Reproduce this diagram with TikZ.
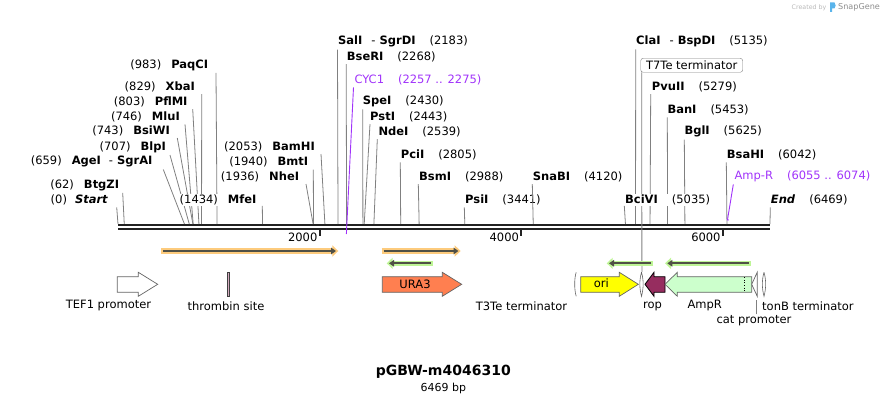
\documentclass[tikz,border=0pt]{standalone}
\usepackage{fontspec}
\setmainfont{DejaVu Sans}[ItalicFont={DejaVu Sans Oblique},BoldFont={DejaVu Sans Bold},BoldItalicFont={DejaVu Sans Bold Oblique}]
\usepackage{xcolor}
\usepackage{tikz}
\usetikzlibrary{arrows.meta,positioning}

\definecolor{leadgray}{RGB}{128,128,128}
\definecolor{hitpurple}{RGB}{160,50,250}
\definecolor{bbdark}{RGB}{34,34,34}
\definecolor{featgray}{RGB}{100,100,100}
\definecolor{glowor}{RGB}{253,203,125}
\definecolor{glowgr}{RGB}{190,245,150}
\definecolor{primdark}{RGB}{80,80,70}
\definecolor{uracoral}{RGB}{255,127,80}
\definecolor{oriyellow}{RGB}{255,255,0}
\definecolor{ropred}{RGB}{150,45,95}
\definecolor{ampgreen}{RGB}{204,255,204}
\definecolor{wmgray}{RGB}{185,185,185}
\definecolor{wmblue}{RGB}{90,180,235}
\newcommand{\mapfont}{\fontsize{11.5}{13.5}\selectfont}

\begin{document}
\begin{tikzpicture}[
    x=1pt, y=-1pt,
    declare function={px(\n)=118+\n*0.100789;},
    lcut/.style={anchor=east, inner sep=2pt, font=\mapfont},
    rcut/.style={anchor=west, inner sep=2pt, font=\mapfont},
    leader/.style={draw=leadgray, line width=0.8pt},
    hit/.style={draw=hitpurple, line width=0.9pt},
    feat/.style={draw=featgray, line width=0.7pt},
    flabel/.style={font=\mapfont, inner sep=1pt},
    oglow/.style={draw=glowor, line width=5.5pt, -{Triangle[length=6pt,width=11pt]}},
    gglow/.style={draw=glowgr, line width=5.5pt, -{Triangle[length=6pt,width=11pt]}},
    primer/.style={draw=primdark, line width=1.8pt, -{Triangle[length=5pt,width=6.5pt]}},
    tick/.style={draw=bbdark, line width=2pt},
    term/.style={draw=featgray, line width=0.6pt, fill=white}
]
    \useasboundingbox (0,0) rectangle (888,403);

    % Backbone
    \draw[draw=bbdark, line width=2.6pt] ({px(0)},225) -- ({px(6469)},225);
    \draw[draw=bbdark, line width=2pt] ({px(0)},229.3) -- ({px(6469)},229.3);

    % Ticks
    \draw[tick] ({px(2000)},229) -- ++(0,7);
    \node[font=\mapfont, anchor=east, inner sep=1pt] (t2000) at ({px(2000)-1},237) {2000};
    \draw[tick] ({px(4000)},229) -- ++(0,7);
    \node[font=\mapfont, anchor=east, inner sep=1pt] (t4000) at ({px(4000)-1},237) {4000};
    \draw[tick] ({px(6000)},229) -- ++(0,7);
    \node[font=\mapfont, anchor=east, inner sep=1pt] (t6000) at ({px(6000)-1},237) {6000};

    % Cut sites on the backbone
    \coordinate (c0) at ({px(0)},224);
    \coordinate (c62) at ({px(62)},224);
    \coordinate (c659) at ({px(659)},224);
    \coordinate (c707) at ({px(707)},224);
    \coordinate (c743) at ({px(743)},224);
    \coordinate (c746) at ({px(746)},224);
    \coordinate (c803) at ({px(803)},224);
    \coordinate (c829) at ({px(829)},224);
    \coordinate (c983) at ({px(983)},224);
    \coordinate (c1434) at ({px(1434)},224);
    \coordinate (c1936) at ({px(1936)},224);
    \coordinate (c1940) at ({px(1940)},224);
    \coordinate (c2053) at ({px(2053)},224);
    \coordinate (c2183) at ({px(2183)},224);
    \coordinate (c2268) at ({px(2268)},224);
    \coordinate (c2430) at ({px(2430)},224);
    \coordinate (c2443) at ({px(2443)},224);
    \coordinate (c2539) at ({px(2539)},224);
    \coordinate (c2805) at ({px(2805)},224);
    \coordinate (c2988) at ({px(2988)},224);
    \coordinate (c3441) at ({px(3441)},224);
    \coordinate (c4120) at ({px(4120)},224);
    \coordinate (c5035) at ({px(5035)},224);
    \coordinate (c5135) at ({px(5135)},224);
    \coordinate (c5279) at ({px(5279)},224);
    \coordinate (c5453) at ({px(5453)},224);
    \coordinate (c5625) at ({px(5625)},224);
    \coordinate (c6042) at ({px(6042)},224);
    \coordinate (c6469) at ({px(6469)},224);
    \coordinate (c2266) at ({px(2266)},234);
    \coordinate (c6055) at ({px(6055)-0.8},220);

    % Enzymes left of their sites
    \node[lcut] (start) at (110.3,200) {(0)\hspace{8pt}\textbf{\textit{Start}}};
    \draw[leader] (start.south east) ++(6.4,0) -- (c0);
    \node[lcut] (btgzi) at (121.3,185) {(62)\hspace{10pt}\textbf{BtgZI}};
    \draw[leader] (btgzi.south east) ++(1.4,0) -- (c62);
    \node[lcut] (agei) at (154.7,161.7) {(659)\hspace{10pt}\textbf{AgeI}\hspace{8pt}-\hspace{4pt}\textbf{SgrAI}};
    \draw[leader] (agei.south east) ++(8.6,0) -- (c659);
    \node[lcut] (blpi) at (168,147.3) {(707)\hspace{10pt}\textbf{BlpI}};
    \draw[leader] (blpi.south east) ++(2,0) -- (c707);
    \node[lcut] (bsiwi) at (172,130.7) {(743)\hspace{10pt}\textbf{BsiWI}};
    \draw[leader] (bsiwi.south east) ++(5.3,0) -- (c743);
    \node[lcut] (mlui) at (182,117) {(746)\hspace{10pt}\textbf{MluI}};
    \draw[leader] (mlui.south east) ++(3,0) -- (c746);
    \node[lcut] (pflmi) at (189.7,101.7) {(803)\hspace{10pt}\textbf{PflMI}};
    \draw[leader] (pflmi.south east) ++(3,0) -- (c803);
    \node[lcut] (xbai) at (197,86.7) {(829)\hspace{10pt}\textbf{XbaI}};
    \draw[leader] (xbai.south east) ++(4.7,0) -- (c829);
    \node[lcut] (paqci) at (210.3,65) {(983)\hspace{10pt}\textbf{PaqCI}};
    \draw[leader] (paqci.south east) ++(5.7,0) -- (c983);
    \node[lcut, fill=white, inner ysep=0.5pt] (mfei) at (258.7,200) {(1434)\hspace{10pt}\textbf{MfeI}};
    \draw[leader] (mfei.south east) ++(3.6,0) -- (c1434);
    \node[lcut] (nhei) at (301.3,176.7) {(1936)\hspace{10pt}\textbf{NheI}};
    \draw[leader] (nhei.south east) ++(4.7,0) -- (c1936);
    \node[lcut] (bmti) at (310.3,162.3) {(1940)\hspace{10pt}\textbf{BmtI}};
    \draw[leader] (bmti.south east) ++(3,0) -- (c1940);
    \node[lcut] (bamhi) at (317,146.7) {(2053)\hspace{10pt}\textbf{BamHI}};
    \draw[leader] (bamhi.south east) ++(4,0) -- (c2053);

    % Enzymes right of their sites
    \node[rcut] (sali) at (336,41.7) {\textbf{SalI}\hspace{9pt}-\hspace{4pt}\textbf{SgrDI}\hspace{14pt}(2183)};
    \draw[leader] (sali.south west) ++(1.5,0) -- (c2183);
    \node[rcut] (bseri) at (344.7,56.7) {\textbf{BseRI}\hspace{14pt}(2268)};
    \draw[leader] (bseri.south west) ++(1.5,0) -- (c2268);
    \node[rcut, text=hitpurple] (cyc1) at (352.3,80) {CYC1\hspace{14pt}(2257 .. 2275)};
    \draw[hit] (cyc1.south west) ++(1.2,0) -- (c2266);
    \node[rcut] (spei) at (360.7,101.7) {\textbf{SpeI}\hspace{14pt}(2430)};
    \draw[leader] (spei.south west) ++(2,0) -- (c2430);
    \node[rcut] (psti) at (368,116.7) {\textbf{PstI}\hspace{14pt}(2443)};
    \draw[leader] (psti.south west) ++(2,0) -- (c2443);
    \node[rcut] (ndei) at (376.3,131.7) {\textbf{NdeI}\hspace{14pt}(2539)};
    \draw[leader] (ndei.south west) ++(1,0) -- (c2539);
    \node[rcut] (pcii) at (398.7,155) {\textbf{PciI}\hspace{14pt}(2805)};
    \draw[leader] (pcii.south west) ++(1.6,0) -- (c2805);
    \node[rcut] (bsmi) at (417,176.7) {\textbf{BsmI}\hspace{14pt}(2988)};
    \draw[leader] (bsmi.south west) ++(1.3,0) -- (c2988);
    \node[rcut] (psii) at (463,200) {\textbf{PsiI}\hspace{14pt}(3441)};
    \draw[leader] (psii.south west) ++(1.3,0) -- (c3441);
    \node[rcut] (snabi) at (530.7,176.7) {\textbf{SnaBI}\hspace{14pt}(4120)};
    \draw[leader] (snabi.south west) ++(1.6,0) -- (c4120);
    \node[rcut] (clai) at (634,41.7) {\textbf{ClaI}\hspace{9pt}-\hspace{4pt}\textbf{BspDI}\hspace{14pt}(5135)};
    \draw[leader] (clai.south west) ++(1.7,0) -- (c5135);
    \node[rcut] (pvuii) at (649.7,86.7) {\textbf{PvuII}\hspace{14pt}(5279)};
    \draw[leader] (pvuii.south west) ++(1,0) -- (c5279);
    \node[rcut] (bani) at (665.3,110) {\textbf{BanI}\hspace{14pt}(5453)};
    \draw[leader] (bani.south west) ++(2,0) -- (c5453);
    \node[rcut] (bgli) at (682.3,131.7) {\textbf{BglI}\hspace{14pt}(5625)};
    \draw[leader] (bgli.south west) ++(2,0) -- (c5625);
    \node[rcut] (bsahi) at (724.7,155) {\textbf{BsaHI}\hspace{14pt}(6042)};
    \draw[leader] (bsahi.south west) ++(1.6,0) -- (c6042);
    \node[rcut, text=hitpurple] (ampr) at (732.3,176.7) {Amp-R\hspace{14pt}(6055 .. 6074)};
    \draw[hit] (ampr.south west) ++(1,0) -- (c6055) -- ++(1.5,0);
    \node[rcut] (end) at (768.7,200) {\textbf{\textit{End}}\hspace{14pt}(6469)};
    \draw[leader] (end.south west) ++(1.6,0) -- (c6469);

    % T7Te terminator label
    \node[draw=leadgray, rounded corners=2.5pt, fill=white, font=\mapfont, inner sep=1.5pt,
          minimum height=14pt, minimum width=102pt] (t7te) at (691.7,65.3) {T7Te terminator};
    \coordinate (t7tefeat) at (641.9,272);
    \draw[leader] (t7te.south west) ++(1.2,0) -- (t7tefeat);

    % BciVI sits over the lines that cross it
    \node[rcut, fill=white, inner ysep=0.5pt] (bcivi) at (623,200) {\textbf{BciVI}\hspace{14pt}(5035)};
    \draw[leader] (bcivi.south west) ++(1.3,0) -- (c5035);

    % Primers
    \draw[oglow] (161,251) -- (338.3,251);
    \draw[primer] (163,251) -- (336,251);
    \draw[oglow] (381.7,251) -- (460.7,251);
    \draw[primer] (383.7,251) -- (458.5,251);
    \draw[gglow] (432.7,263.3) -- (386.7,263.3);
    \draw[primer] (430.7,263.3) -- (389,263.3);
    \draw[gglow] (653.3,263.3) -- (606.7,263.3);
    \draw[primer] (651.3,263.3) -- (609,263.3);
    \draw[gglow] (750.7,263.3) -- (665,263.3);
    \draw[primer] (748.7,263.3) -- (667.3,263.3);

    % Features
    \draw[feat, fill=white] (117.3,276.7) -- (138.3,276.7) -- (138.3,272.3) -- (157.7,284.3)
        -- (138.3,296.3) -- (138.3,292.3) -- (117.3,292.3) -- cycle;
    \draw[draw=black!75, line width=0.5pt, fill=ropred!40] (227.6,272.3) rectangle (229,296.3);
    \draw[feat, fill=uracoral] (382.3,276.7) -- (442.3,276.7) -- (442.3,272.3) -- (461.7,284.3)
        -- (442.3,296.3) -- (442.3,292.3) -- (382.3,292.3) -- cycle;
    \draw[term] (576.2,272.3) .. controls (574.2,278) and (574.2,290) .. (576.2,296.3);
    \draw[feat, fill=oriyellow] (580.7,276.7) -- (619.3,276.7) -- (619.3,272.3) -- (638.3,284.3)
        -- (619.3,296.3) -- (619.3,292.3) -- (580.7,292.3) -- cycle;
    \draw[term] (641.5,272.3) .. controls (639.3,280) and (639.3,288) .. (641.5,296.3)
        .. controls (643.7,288) and (643.7,280) .. (641.5,272.3);
    \draw[draw=black, line width=0.8pt, fill=ropred] (665,276.7) -- (654,276.7) -- (654,272.3) -- (645,284.3)
        -- (654,296.3) -- (654,292.3) -- (665,292.3) -- cycle;
    \draw[feat, fill=ampgreen] (751.7,276.7) -- (677.3,276.7) -- (677.3,272.3) -- (665,284.3)
        -- (677.3,296.3) -- (677.3,292.3) -- (751.7,292.3) -- cycle;
    \draw[black, line width=0.6pt, dotted] (744.3,277.2) -- (744.3,291.8);
    \draw[feat, fill=white] (757.2,272.3) -- (751.7,284.3) -- (757.2,296.3) -- cycle;
    \draw[term] (764,272.3) .. controls (761.8,280) and (761.8,288) .. (764,296.3)
        .. controls (766.2,288) and (766.2,280) .. (764,272.3);

    % Feature labels
    \node[flabel] (tef1) at (108.5,306) {TEF1 promoter};
    \node[flabel] (thromb) at (226,306) {thrombin site};
    \node[flabel] (ura3) at (415,284) {URA3};
    \node[flabel] (t3te) at (521.5,306) {T3Te terminator};
    \node[flabel] (ori) at (601.3,283.5) {ori};
    \node[flabel] (rop) at (652.5,306) {rop};
    \node[flabel] (amp) at (704.7,306) {AmpR};
    \node[flabel, anchor=west] (tonb) at (761,306) {tonB terminator};
    \node[flabel] (catp) at (754,320.7) {cat promoter};
    \coordinate (catfeat) at (756,300);
    \draw[leader] (catp.north) ++(2,0) -- (catfeat);

    % Title
    \node[font=\bfseries\fontsize{14}{16}\selectfont] (title) at (443.3,372) {pGBW-m4046310};
    \node[font=\fontsize{11}{13}\selectfont, below=-3pt of title] (size) {6469 bp};

    % Watermark
    \node[font=\fontsize{6.3}{7}\selectfont, text=wmgray, anchor=west, inner sep=0pt] (wm1) at (791.5,7.3) {Created by};
    \fill[wmblue] (830,2.5) -- (834.5,2.5) .. controls (836,4) and (836,7) .. (834.5,8.5) -- (832,8.5) -- (832,12) -- (830,12) -- cycle;
    \node[font=\fontsize{8.1}{9}\selectfont, text=leadgray!90, anchor=west, inner sep=0pt] (wm2) at (838,7.3) {SnapGene};
\end{tikzpicture}
\end{document}
